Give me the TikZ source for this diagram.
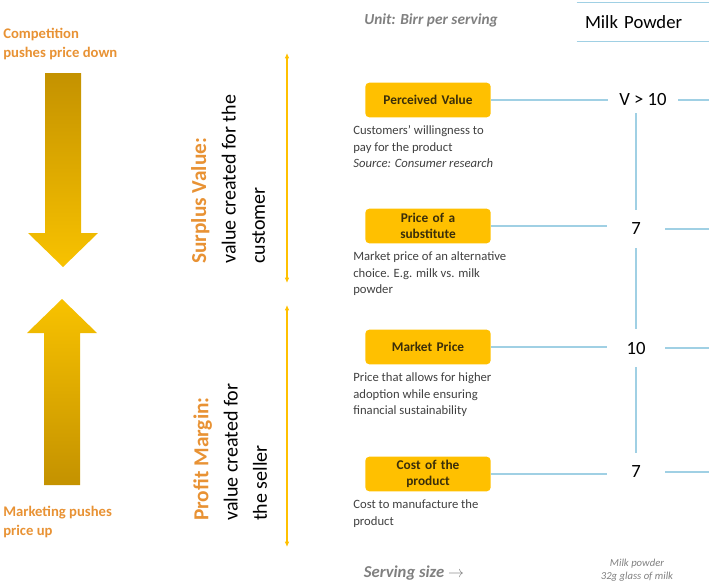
\documentclass[tikz,border=0pt]{standalone}
\usepackage{fontspec}
\setmainfont{Carlito}
\usepackage{tikz}
\usetikzlibrary{arrows.meta,positioning}
\definecolor{gold}{RGB}{255,192,0}
\definecolor{golddark}{RGB}{196,146,0}
\definecolor{goldlight}{RGB}{248,194,0}
\definecolor{tangerine}{RGB}{232,146,52}
\definecolor{lineblue}{RGB}{160,208,228}
\definecolor{inkgray}{RGB}{64,64,64}
\definecolor{softgray}{RGB}{128,128,128}
\definecolor{boxink}{RGB}{58,46,10}

\begin{document}
\begin{tikzpicture}[x=0.75pt, y=-0.75pt,
    stepbox/.style={rounded corners=3pt, fill=gold, text=boxink, align=center, text width=90pt, minimum height=26pt, inner sep=2pt, font=\fontsize{10}{11.5}\selectfont\bfseries},
    note/.style={align=left, inner sep=0pt, text=inkgray, font=\fontsize{9.5}{12.4}\selectfont},
    valnode/.style={fill=white, minimum width=43.5pt, minimum height=28.5pt, inner sep=0pt, font=\fontsize{14}{16}\selectfont},
    pushlabel/.style={align=left, inner sep=0pt, text=tangerine, font=\fontsize{11}{14}\selectfont\bfseries},
    sidetitle/.style={rotate=90, anchor=north west, align=left, inner sep=0pt, font=\fontsize{15}{22}\selectfont},
    graynote/.style={text=softgray, font=\fontsize{11.5}{13}\selectfont\bfseries\itshape},
    rule/.style={lineblue, line width=1pt},
    span/.style={gold, line width=1.1pt, {Latex[length=4pt,width=3.5pt]}-{Latex[length=4pt,width=3.5pt]}}
]
\useasboundingbox (0,0) rectangle (709,586);

\shade[top color=golddark, bottom color=goldlight] (45,73) -- (81,73) -- (81,233) -- (98,233) -- (63,267) -- (28,233) -- (45,233) -- cycle;
\shade[top color=goldlight, bottom color=golddark] (44,485) -- (80,485) -- (80,333) -- (97,333) -- (62,299) -- (27,333) -- (44,333) -- cycle;
\node[pushlabel, anchor=west] (comp) at (3,44) {Competition\\pushes price down};
\node[pushlabel, anchor=west] (mkt) at (3,522) {Marketing pushes\\price up};

\node[sidetitle] (surplus) at (191,264) {{\fontsize{16}{22}\selectfont\bfseries\color{tangerine}Surplus Value:}\\value created for the\\customer};
\node[sidetitle] (profit) at (193,521) {{\fontsize{16}{22}\selectfont\bfseries\color{tangerine}Profit Margin:}\\value created for\\the seller};

\coordinate (svtop) at (287,53);
\coordinate (svbot) at (287,283);
\coordinate (pmtop) at (287,305);
\coordinate (pmbot) at (287,547);
\draw[span] (svtop) -- (svbot);
\draw[span] (pmtop) -- (pmbot);

\node[graynote] (unit) at (431,20) {Unit: Birr per serving};
\node[text width=87pt, inner xsep=6pt, minimum height=29pt, align=left, font=\fontsize{14}{16}\selectfont] (hdr) at (643,22) {Milk Powder};
\draw[rule] (hdr.north west) -- (hdr.north east);
\draw[rule] (hdr.south west) -- (hdr.south east);

\node[stepbox] (pv) at (428,100) {Perceived Value};
\node[stepbox] (sub) at (428,226) {Price of a\\substitute};
\node[stepbox] (mp) at (428,347) {Market Price};
\node[stepbox] (cost) at (428,474) {Cost of the\\product};

\node[note, below=6pt of pv.south west, anchor=north west, xshift=-9pt] (pvnote) {Customers' willingness to\\pay for the product\\\textit{Source: Consumer research}};
\node[note, below=6pt of sub.south west, anchor=north west, xshift=-9pt] (subnote) {Market price of an alternative\\choice. E.g. milk vs. milk\\powder};
\node[note, below=6pt of mp.south west, anchor=north west, xshift=-9pt] (mpnote) {Price that allows for higher\\adoption while ensuring\\financial sustainability};
\node[note, below=6pt of cost.south west, anchor=north west, xshift=-9pt] (costnote) {Cost to manufacture the\\product};

\node[valnode, minimum width=52.5pt, minimum height=19.5pt] (v1) at (643,100) {V > 10};
\node[valnode] (v2) at (636,229) {7};
\node[valnode] (v3) at (636,348) {10};
\node[valnode] (v4) at (636,472) {7};

\coordinate (edge) at (709,0);
\foreach \b/\v in {pv/v1, sub/v2, mp/v3, cost/v4} {
  \draw[rule] (\b.east) -- (\b.east -| \v.west);
  \draw[rule] (\v.east) -- (\v.east -| edge);
}
\draw[rule] (v1.south -| v2) -- (v2.north);
\draw[rule] (v2.south) -- (v3.north);
\draw[rule] (v3.south) -- (v4.north);

\node[graynote, font=\fontsize{12.5}{14}\selectfont\bfseries\itshape] (serving) at (414,573) {Serving size $\rightarrow$};
\node[text=softgray, align=center, font=\fontsize{8}{10}\selectfont\itshape] (serve) at (637,570) {Milk powder\\32g glass of milk};
\end{tikzpicture}
\end{document}
